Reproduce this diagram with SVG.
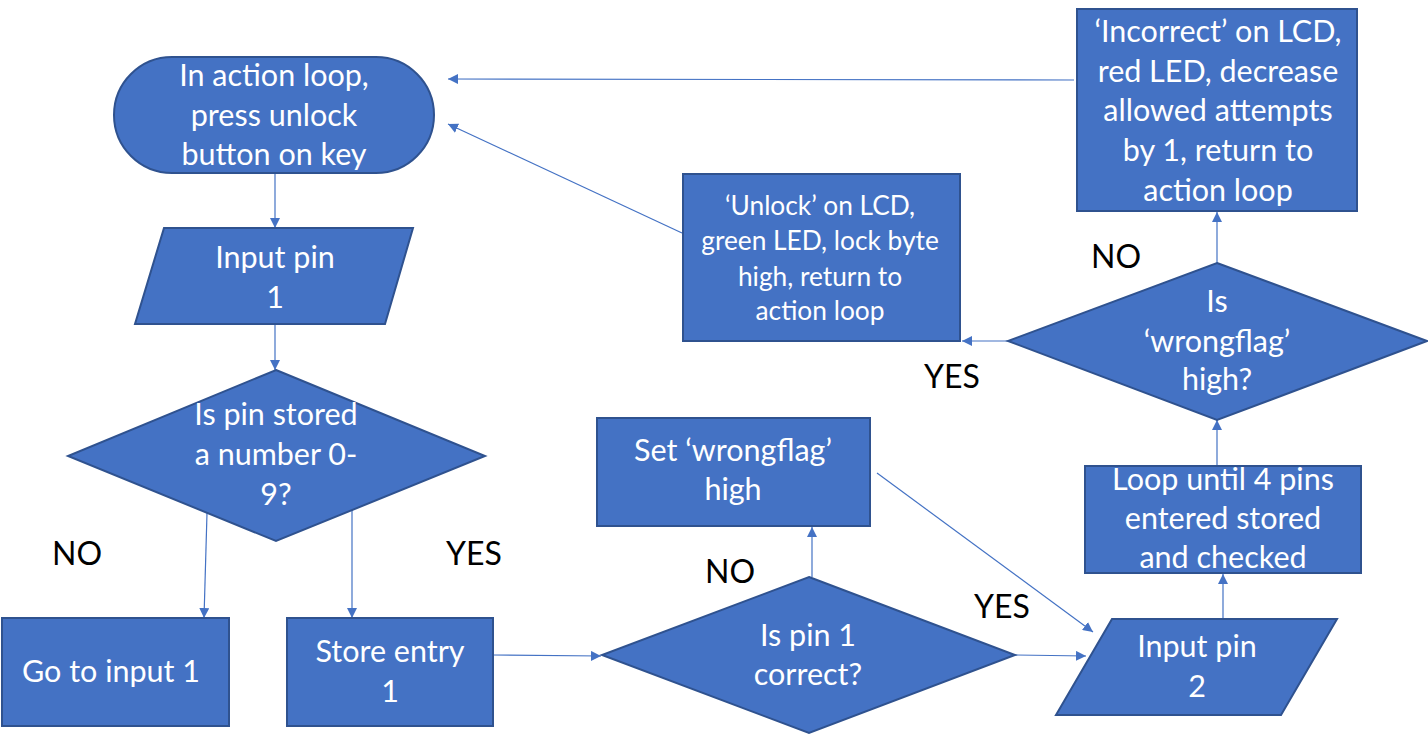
<svg xmlns="http://www.w3.org/2000/svg" width="1428" height="735" viewBox="0 0 1428 735">
<defs>
<style>
.n{fill:#4472C4;stroke:#2F528F;stroke-width:2}
.t{fill:#fff;font-family:Lato,"Open Sans",sans-serif;font-size:30.5px;text-anchor:middle}
.s{font-size:26.3px}
.l{fill:#000;font-family:Lato,"Open Sans",sans-serif;font-size:32px;text-anchor:middle}
.c{fill:none;stroke:#4472C4;stroke-width:1.2;marker-end:url(#a)}
</style>
<marker id="a" viewBox="0 0 10 10" refX="10" refY="5" markerWidth="10" markerHeight="10" markerUnits="userSpaceOnUse" orient="auto">
<path d="M0,0L10,5L0,10z" fill="#4472C4"/>
</marker>
</defs>
<rect width="1428" height="735" fill="#fff"/>
<g id="connectors">
<line class="c" x1="275" y1="173" x2="275" y2="228"/>
<line class="c" x1="275" y1="324" x2="275" y2="370"/>
<line class="c" x1="207" y1="513" x2="204" y2="618"/>
<line class="c" x1="352" y1="510" x2="352" y2="618"/>
<line class="c" x1="493" y1="655" x2="601" y2="656"/>
<line class="c" x1="812" y1="577" x2="812" y2="527"/>
<line class="c" x1="877" y1="473" x2="1093" y2="632"/>
<line class="c" x1="1015" y1="655" x2="1086" y2="656"/>
<line class="c" x1="1223" y1="619" x2="1223" y2="574"/>
<line class="c" x1="1217" y1="466" x2="1217" y2="420"/>
<line class="c" x1="1217" y1="263" x2="1217" y2="212"/>
<line class="c" x1="1008" y1="341" x2="962" y2="341"/>
<line class="c" x1="1074" y1="80" x2="448" y2="79"/>
<line class="c" x1="682" y1="233" x2="448" y2="124"/>
</g>
<g id="start">
<rect class="n" x="114" y="57" width="320" height="116" rx="58" ry="58"/>
<text class="t" x="274" y="86">In action loop,</text>
<text class="t" x="274" y="126">press unlock</text>
<text class="t" x="274" y="165">button on key</text>
</g>
<g id="input1">
<polygon class="n" points="164,228 413,228 385,324 135,324"/>
<text class="t" x="275" y="268">Input pin</text>
<text class="t" x="275" y="308">1</text>
</g>
<g id="check09">
<polygon class="n" points="276,370 485,456 276,541 68,456"/>
<text class="t" x="276" y="425">Is pin stored</text>
<text class="t" x="276" y="465">a number 0-</text>
<text class="t" x="276" y="505">9?</text>
</g>
<g id="goto1">
<rect class="n" x="2" y="618" width="227" height="108"/>
<text class="t" x="111" y="682">Go to input 1</text>
</g>
<g id="store1">
<rect class="n" x="287" y="618" width="206" height="108"/>
<text class="t" x="390" y="662">Store entry</text>
<text class="t" x="390" y="702">1</text>
</g>
<g id="correct1">
<polygon class="n" points="809,577 1015,655 809,733 602,655"/>
<text class="t" x="808" y="646">Is pin 1</text>
<text class="t" x="808" y="685">correct?</text>
</g>
<g id="setflag">
<rect class="n" x="597" y="418" width="273" height="108"/>
<text class="t" x="733" y="461">Set ‘wrongflag’</text>
<text class="t" x="733" y="500">high</text>
</g>
<g id="input2">
<polygon class="n" points="1112,619 1337,619 1281,715 1056,715"/>
<text class="t" x="1197" y="657">Input pin</text>
<text class="t" x="1197" y="697">2</text>
</g>
<g id="loop4">
<rect class="n" x="1085" y="466" width="276" height="107"/>
<text class="t" x="1223" y="490">Loop until 4 pins</text>
<text class="t" x="1223" y="529">entered stored</text>
<text class="t" x="1223" y="568">and checked</text>
</g>
<g id="wrongflag">
<polygon class="n" points="1217,263 1427,341 1217,420 1008,341"/>
<text class="t" x="1217" y="312">Is</text>
<text class="t" x="1217" y="352">‘wrongflag’</text>
<text class="t" x="1217" y="390">high?</text>
</g>
<g id="incorrect">
<rect class="n" x="1077" y="9" width="280" height="202"/>
<text class="t" x="1218" y="42">‘Incorrect’ on LCD,</text>
<text class="t" x="1218" y="82">red LED, decrease</text>
<text class="t" x="1218" y="121">allowed attempts</text>
<text class="t" x="1218" y="161">by 1, return to</text>
<text class="t" x="1218" y="201">action loop</text>
</g>
<g id="unlock">
<rect class="n" x="683" y="174" width="277" height="167"/>
<text class="t s" x="820" y="215">‘Unlock’ on LCD,</text>
<text class="t s" x="820" y="250">green LED, lock byte</text>
<text class="t s" x="820" y="286">high, return to</text>
<text class="t s" x="820" y="320">action loop</text>
</g>
<g id="labels">
<text class="l" x="77" y="565">NO</text>
<text class="l" x="474" y="565">YES</text>
<text class="l" x="730" y="583">NO</text>
<text class="l" x="1002" y="618">YES</text>
<text class="l" x="1116" y="268">NO</text>
<text class="l" x="952" y="388">YES</text>
</g>
</svg>
